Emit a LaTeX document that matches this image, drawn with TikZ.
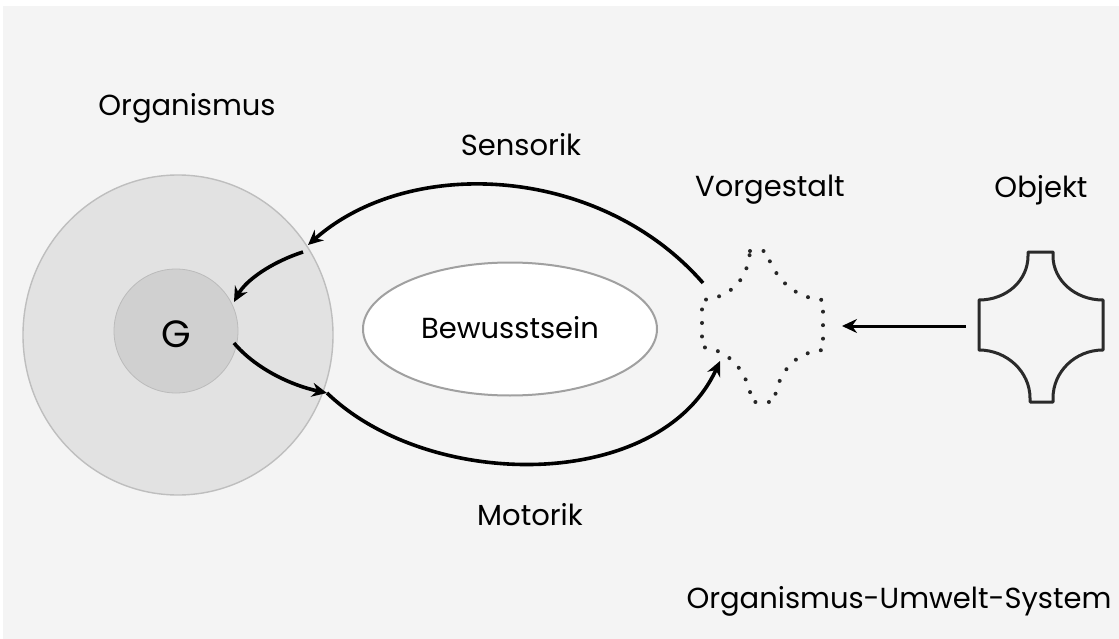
\documentclass[tikz,border=0pt]{standalone}
\usepackage{fontspec}
\setmainfont{Poppins}
\usetikzlibrary{arrows.meta,shapes.geometric}
\definecolor{bg}{HTML}{F4F4F4}
\definecolor{outerfill}{HTML}{E2E2E2}
\definecolor{outerline}{HTML}{BEBEBE}
\definecolor{innerfill}{HTML}{D0D0D0}
\definecolor{ellline}{HTML}{A0A0A0}
\definecolor{shapeline}{HTML}{2A2A2A}
\tikzset{
  lbl/.style={font=\fontsize{29}{32}\selectfont, text=black, inner sep=0pt},
  conn/.style={line width=3.6pt, black, -{Stealth[length=15pt,width=14pt,inset=5pt]}},
}
\begin{document}
\begin{tikzpicture}[x=1pt,y=-1pt]
\useasboundingbox (0,0) rectangle (1119,639);
\fill[white] (0,0) rectangle (1119,639);
\fill[bg] (3,6) rectangle (1119,639);

% Organismus circles
\node[ellipse, draw=outerline, line width=1.4pt, fill=outerfill, minimum width=310pt, minimum height=320pt, inner sep=0pt] (org) at (178,335) {};
\node[circle, draw=innerfill!90!black, line width=0.8pt, fill=innerfill, minimum size=124pt, inner sep=0pt] (g) at (176,331) {};
\node[lbl, font=\fontsize{38}{40}\selectfont] (glbl) at (176,334) {G};

% Bewusstsein
\node[ellipse, draw=ellline, line width=2pt, fill=white, minimum width=294pt, minimum height=133pt, inner sep=0pt] (bew) at (510,329) {};
\node[lbl] (bewlbl) at (510,328) {Bewusstsein};

% Vorgestalt (dotted)
\draw[line width=4pt, line cap=round, dash pattern=on 0pt off 13.5pt, black!85]
  (750,251) -- (766,251) .. controls (775,280) and (795,298) .. (823,300)
  -- (823,350) .. controls (795,352) and (778,372) .. (774,402)
  -- (752,402) .. controls (748,372) and (730,350) .. (702,347)
  -- (702,300) .. controls (730,298) and (748,280) .. (750,251) -- cycle;
\coordinate (vgul) at (703,283);
\coordinate (vgll) at (720,361);
\coordinate (vgr) at (842,326);

% Objekt
\draw[line width=3pt, shapeline, line join=round]
  (1028,252) -- (1053,252) -- (1053,256) .. controls (1053,280) and (1075,300) .. (1103,300)
  -- (1103,350) .. controls (1075,350) and (1053,372) .. (1053,398) -- (1053,402)
  -- (1030,402) -- (1030,398) .. controls (1030,372) and (1007,350) .. (979,350)
  -- (979,300) .. controls (1007,300) and (1028,280) .. (1028,256) -- cycle;
\coordinate (objl) at (966,326);

% connector points
\coordinate (sin) at (308,245);
\coordinate (sout) at (303,252);
\coordinate (gin) at (234,302);
\coordinate (gout) at (234,343);
\coordinate (mmid) at (327,393);

% arrows
\draw[conn] (vgul) .. controls (600,165) and (410,155) .. (sin);
\draw[conn] (sout) .. controls (272,262) and (246,280) .. (gin);
\draw[conn] (gout) .. controls (255,368) and (290,385) .. (mmid);
\draw[conn] (mmid) .. controls (430,492) and (660,492) .. (vgll);
\draw[conn, line width=3pt] (objl) -- (vgr);

% labels
\node[lbl] (orglbl) at (187,108) {Organismus};
\node[lbl] (senslbl) at (521,145) {Sensorik};
\node[lbl] (vglbl) at (770,190) {Vorgestalt};
\node[lbl] (objlbl) at (1041,190) {Objekt};
\node[lbl] (motlbl) at (530,515) {Motorik};
\node[lbl] (ouslbl) at (899,601) {Organismus-Umwelt-System};
\end{tikzpicture}
\end{document}
